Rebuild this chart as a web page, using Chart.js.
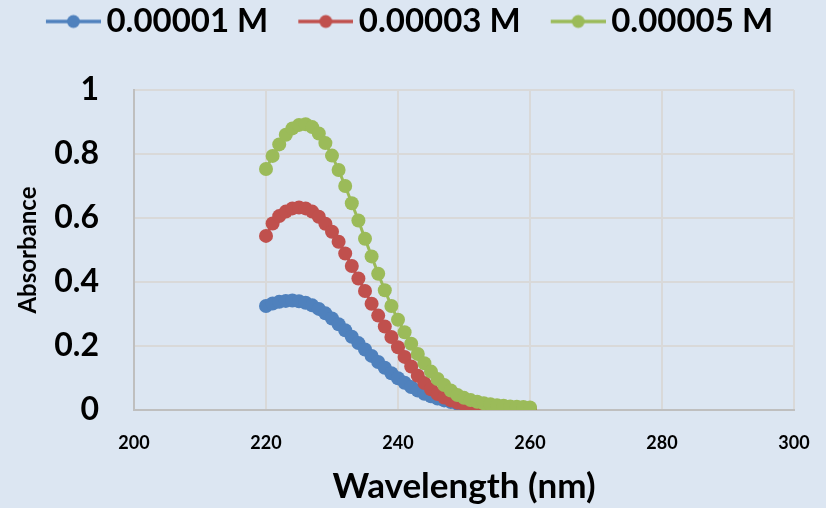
<!DOCTYPE html>
<html><head><meta charset="utf-8">
<script src="https://cdn.jsdelivr.net/npm/chart.js@4.4.1/dist/chart.umd.min.js"></script>
<style>html,body{margin:0;padding:0;background:#dce6f2;}#wrap{width:826px;height:508px;}</style>
</head><body><div id="wrap"><canvas id="c" width="826" height="508"></canvas></div>
<script>
const wavelengths = [220,221,222,223,224,225,226,227,228,229,230,231,232,233,234,235,236,237,238,239,240,241,242,243,244,245,246,247,248,249,250,251,252,253,254,255,256,257,258,259,260];
const conc1 = [0.325,0.333,0.338,0.341,0.342,0.340,0.335,0.327,0.316,0.302,0.286,0.268,0.249,0.229,0.209,0.189,0.169,0.150,0.132,0.115,0.099,0.085,0.072,0.061,0.051,0.043,0.036,0.030,0.025,0.020,0.016,0.013,0.010,0.008,0.006,0.005,0.004,0.003,0.003,0.002,0.002];
const conc3 = [0.544,0.583,0.606,0.620,0.630,0.633,0.630,0.620,0.604,0.582,0.557,0.526,0.489,0.450,0.411,0.372,0.332,0.295,0.261,0.228,0.196,0.166,0.136,0.107,0.084,0.065,0.050,0.039,0.030,0.023,0.018,0.014,0.011,0.008,0.006,0.005,0.004,0.003,0.003,0.002,0.002];
const conc5 = [0.753,0.794,0.830,0.860,0.880,0.891,0.893,0.884,0.864,0.834,0.795,0.750,0.700,0.646,0.592,0.535,0.480,0.426,0.374,0.325,0.282,0.243,0.207,0.175,0.146,0.120,0.097,0.078,0.061,0.047,0.038,0.031,0.026,0.021,0.018,0.015,0.013,0.011,0.010,0.009,0.008];
const seriesLabels = ['0.00001 M','0.00003 M','0.00005 M'];
const seriesColors = ['#4f81bd','#c0504d','#9bbb59'];
const xTicks = [200,220,240,260,280,300];
const yTicks = [0,0.2,0.4,0.6,0.8,1];

const FONT = 'Lato';
function makeIcon(color){
  const c = document.createElement('canvas');
  c.width = 91; c.height = 16;
  const g = c.getContext('2d');
  g.strokeStyle = color; g.lineWidth = 3.5;
  g.beginPath(); g.moveTo(36,8); g.lineTo(91,8); g.stroke();
  g.fillStyle = color; g.beginPath(); g.arc(63.5,8,6.5,0,Math.PI*2); g.fill();
  return c;
}
const icons = seriesColors.map(makeIcon);

const allSeries = [conc1, conc3, conc5];
const datasets = allSeries.map((s,i)=>({
  label: seriesLabels[i],
  data: wavelengths.map((w,j)=>({x:w, y:s[j]})),
  borderColor: seriesColors[i],
  backgroundColor: seriesColors[i],
  borderWidth: 3,
  pointRadius: 7,
  pointHoverRadius: 7,
  pointBorderWidth: 0,
  showLine: true,
  tension: 0,
  order: 3 - i
}));

const bgPlugin = {
  id:'bg',
  beforeDraw(chart){ const c = chart.ctx; c.save(); c.fillStyle='#dce6f2'; c.fillRect(0,0,chart.width,chart.height); c.restore(); }
};
const legendH = {
  id:'legendH',
  afterInit(chart){ const lg = chart.legend; const f = lg.fit; lg.fit = function(){ f.call(this); this.height = 90; }; }
};

new Chart(document.getElementById('c'), {
  type: 'scatter',
  data: { datasets },
  plugins: [bgPlugin, legendH],
  options: {
    responsive: false,
    devicePixelRatio: 1,
    animation: false,
    events: [],
    layout: { padding: { left: 0, right: 32, top: 0, bottom: 0 } },
    plugins: {
      tooltip: { enabled: false },
      legend: {
        position: 'top',
        align: 'center',
        labels: {
          usePointStyle: true,
          pointStyleWidth: 69,
          padding: 5,
          color: '#000',
          font: { family: FONT, size: 33, weight: 'bold' },
          generateLabels(chart){
            return seriesLabels.map((t,i)=>({
              text: t, pointStyle: icons[i], fillStyle: seriesColors[i], strokeStyle: seriesColors[i],
              lineWidth: 0, hidden: false, datasetIndex: i, fontColor: '#000'
            }));
          }
        }
      }
    },
    scales: {
      x: {
        type: 'linear', min: 200, max: 300,
        afterBuildTicks: s => { s.ticks = xTicks.map(v=>({value:v})); },
        afterFit: s => { s.height = 98; s.paddingLeft = 0; s.paddingRight = 0; },
        grid: { color: '#d9d9d9', lineWidth: 2, drawTicks: false },
        border: { color: '#bfbfbf', width: 2 },
        ticks: { color: '#000', padding: 22, font: { family: FONT, size: 18, weight: 'bold' } },
        title: { display: true, text: 'Wavelength (nm)', color: '#000', padding: { top: 0, bottom: 0 }, font: { family: FONT, size: 35, weight: 'bold' } }
      },
      y: {
        type: 'linear', min: 0, max: 1,
        afterBuildTicks: s => { s.ticks = yTicks.map(v=>({value:v})); },
        afterFit: s => { s.width = 134; },
        grid: { color: '#d9d9d9', lineWidth: 2, drawTicks: false },
        border: { color: '#bfbfbf', width: 2 },
        ticks: { color: '#000', padding: 35, font: { family: FONT, size: 32, weight: 'bold' }, callback: v => String(v) },
        title: { display: true, text: 'Absorbance', color: '#000', padding: { top: 14, bottom: 0 }, font: { family: FONT, size: 24, weight: 'bold' } }
      }
    }
  }
});
</script></body></html>
